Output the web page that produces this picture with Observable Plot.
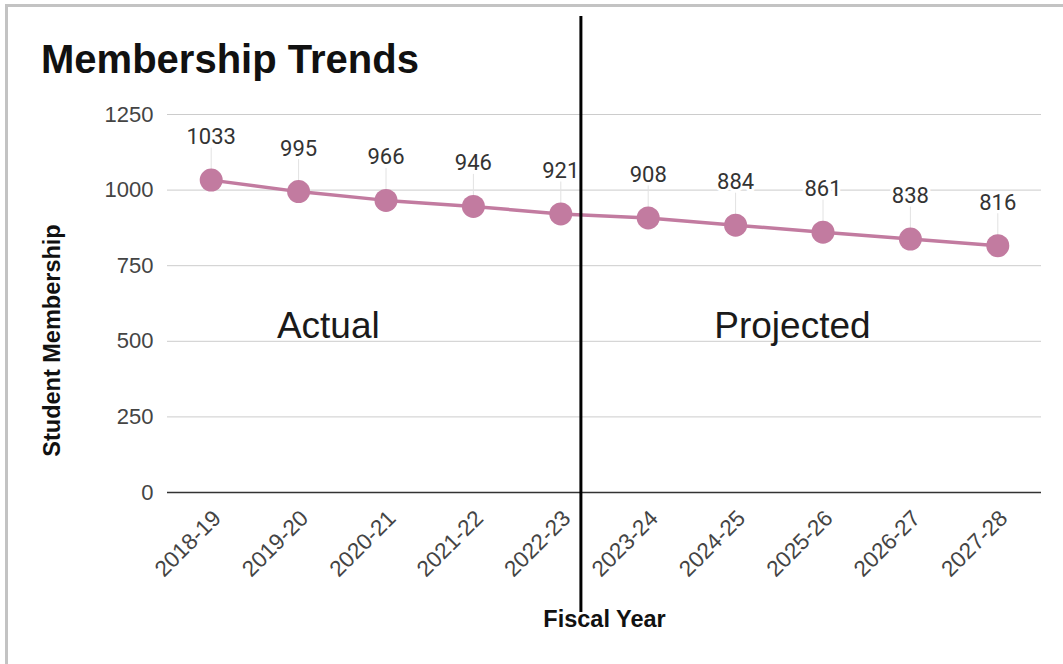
<!DOCTYPE html>
<html><head><meta charset="utf-8">
<script src="https://cdn.jsdelivr.net/npm/d3@7"></script>
<script src="https://cdn.jsdelivr.net/npm/@observablehq/plot@0.6"></script>
<style>
body{margin:0;background:#fff;width:1063px;height:664px;overflow:hidden;position:relative;font-family:Arial,"Liberation Sans",sans-serif}
#frame{position:absolute;left:5px;top:4px;width:1100px;height:720px;border-left:3px solid #c3c3c3;border-top:3px solid #c3c3c3}
#title{position:absolute;left:41px;top:39px;font:bold 40px/40px Arial,"Liberation Sans",sans-serif;color:#111;white-space:nowrap}
#chart{position:absolute;left:0;top:90px}
</style></head><body>
<div id="frame"></div>
<div id="title">Membership Trends</div>
<div id="chart"></div>
<script>
// ---- data ----
const years = ["2018-19","2019-20","2020-21","2021-22","2022-23","2023-24","2024-25","2025-26","2026-27","2027-28"];
const membership = [1033, 995, 966, 946, 921, 908, 884, 861, 838, 816];
const yTicks = [0, 250, 500, 750, 1000, 1250];
const periodLabels = ["Actual", "Projected"];
const periodX = [1.34, 6.65];   // in year-index units
const periodY = [550, 550];
const dividerAt = 4.23;         // year-index position of the Actual/Projected divider

const rows = years.map((year, i) => ({i, year, value: membership[i]}));
const pink = "#c27ba0";

const chart = Plot.plot({
  width: 1063,
  height: 574,
  marginTop: 24,
  marginBottom: 172,
  marginLeft: 167,
  marginRight: 22,
  style: {background: "none", fontFamily: "Arial, 'Liberation Sans', sans-serif", overflow: "visible", maxWidth: "none"},
  x: {type: "linear", domain: [-0.5, years.length - 0.5]},
  y: {domain: [0, 1250]},
  marks: [
    Plot.gridY(yTicks, {stroke: "#cccccc", strokeOpacity: 1, strokeWidth: 1}),
    Plot.ruleY([0], {stroke: "#333", strokeWidth: 1.6}),
    Plot.ruleX(rows, {x: "i", y1: "value", y2: "value", insetTop: -32, stroke: "#e2e2e2", strokeWidth: 1}),
    Plot.line(rows, {x: "i", y: "value", stroke: pink, strokeWidth: 3.5}),
    Plot.dot(rows, {x: "i", y: "value", r: 11.5, fill: pink, stroke: null}),
    Plot.text(rows, {x: "i", y: "value", text: d => String(d.value), dy: -43, fontSize: 22,
      fontFamily: "Roboto, sans-serif", fill: "#333", stroke: "white", strokeWidth: 6, paintOrder: "stroke"}),
    Plot.text(periodLabels, {x: periodX, y: periodY, text: d => d, fontSize: 37, fill: "#1a1a1a"}),
    Plot.ruleX([dividerAt], {stroke: "#000", strokeWidth: 3, insetTop: -98, insetBottom: -120}),
    Plot.axisY(yTicks, {tickFormat: d3.format("d"), tickSize: 0, tickPadding: 14, fontSize: 22, fill: "#444", label: null}),
    Plot.axisX(d3.range(years.length), {tickFormat: i => years[i], tickRotate: -45, tickSize: 0,
      tickPadding: 22, dx: 6, fontSize: 22.5, fill: "#444", label: null}),
    Plot.text(["Student Membership"], {frameAnchor: "left", textAnchor: "middle", rotate: -90, dx: -115, dy: 37,
      fontWeight: "bold", fontSize: 23.5, fill: "#111"}),
    Plot.text(["Fiscal Year"], {frameAnchor: "bottom", dy: 134, fontWeight: "bold", fontSize: 23.5, fill: "#111"})
  ]
});
document.getElementById("chart").append(chart);
</script>
</body></html>
